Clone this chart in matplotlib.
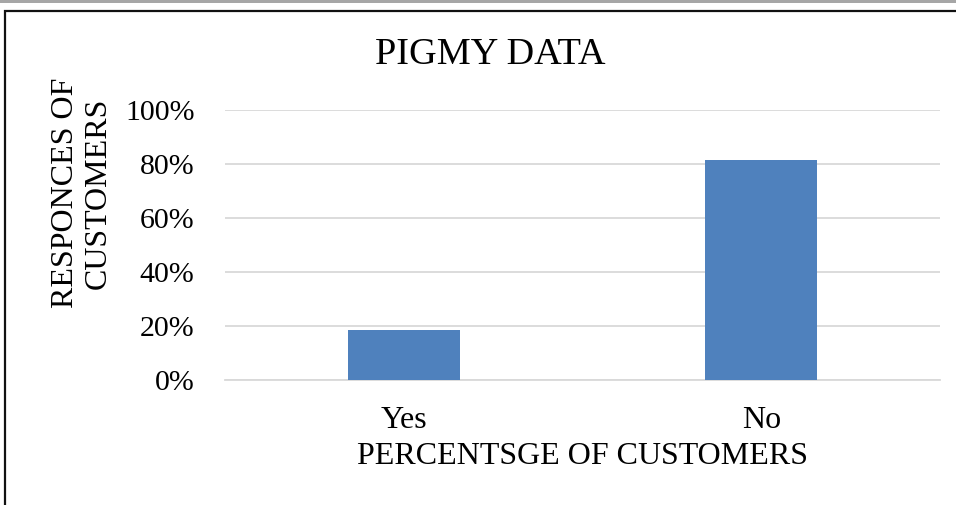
import matplotlib
matplotlib.use("Agg")
import matplotlib.pyplot as plt
from matplotlib.patches import Rectangle
from matplotlib.ticker import FuncFormatter

categories = ["Yes", "No"]
values = [18.7, 81.3]
yticks = [0, 20, 40, 60, 80, 100]

plt.rcParams['font.family'] = ['Liberation Serif', 'DejaVu Serif']

W, H = 956, 505
fig = plt.figure(figsize=(W / 100, H / 100), dpi=100)

# top gray band and frame
fig.patches.append(Rectangle((0, 1 - 3 / H), 1, 3 / H, transform=fig.transFigure,
                             facecolor="#a6a6a6", edgecolor="none", zorder=0))
fig.patches.append(Rectangle((5 / W, -0.1), 1.2, 1 - 11 / H + 0.1, transform=fig.transFigure,
                             facecolor="none", edgecolor="#111111", linewidth=1.6, zorder=1))

ax = fig.add_axes([225 / W, 1 - 380 / H, (940 - 225) / W, (380 - 110) / H])
x = range(len(categories))
ax.bar(x, values, width=0.313, color="#4f81bd", zorder=3)
ax.set_xlim(-0.5, 1.5)
ax.set_ylim(0, 100)
ax.set_yticks(yticks)
ax.yaxis.set_major_formatter(FuncFormatter(lambda v, p: f"{int(v)}%"))
ax.set_xticks(list(x))
ax.set_xticklabels(categories)
ax.grid(axis="y", color="#d9d9d9", linewidth=1.3, zorder=0)
ax.set_axisbelow(True)
for s in ["top", "right", "left"]:
    ax.spines[s].set_visible(False)
ax.spines["bottom"].set_color("#d9d9d9")
ax.spines["bottom"].set_linewidth(1.3)
ax.tick_params(axis="y", length=0, pad=22, labelsize=21.5)
ax.tick_params(axis="x", length=0, pad=19, labelsize=23)

ax.set_xlabel("PERCENTSGE OF CUSTOMERS", fontsize=23, labelpad=5)
fig.text(490 / W, 1 - 55 / H, "PIGMY DATA", fontsize=27.5, ha="center", va="center")
fig.text(82 / W, 1 - 193 / H, "RESPONCES OF\nCUSTOMERS", fontsize=23, rotation=90,
         ha="center", va="center", linespacing=1.2)

fig.savefig("out.png", dpi=100, facecolor="white")
